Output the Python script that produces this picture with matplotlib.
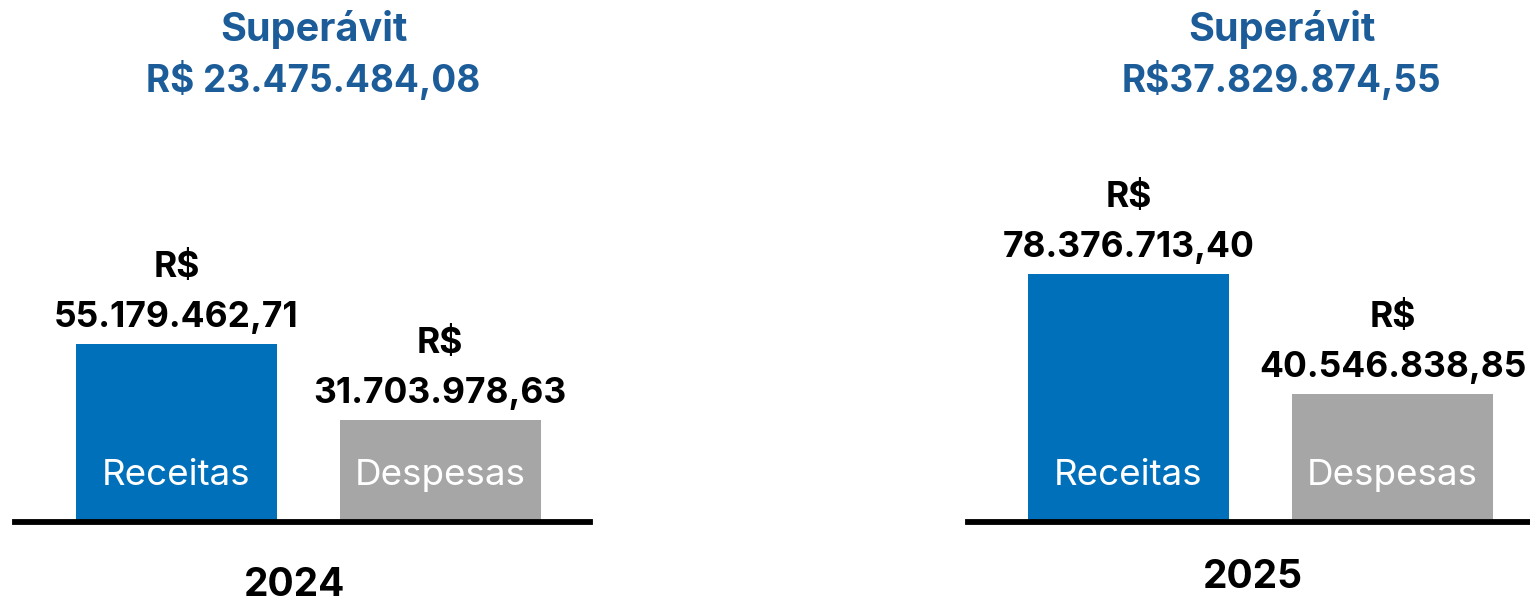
import matplotlib.pyplot as plt

# Receitas x Despesas por exercício
anos = ['2024', '2025']
categorias = ['Receitas', 'Despesas']
receitas = [55179462.71, 78376713.40]
despesas = [31703978.63, 40546838.85]
superavit_txt = ['R$ 23.475.484,08', 'R$37.829.874,55']
valor_txt = [['55.179.462,71', '31.703.978,63'],
             ['78.376.713,40', '40.546.838,85']]

cores = ['#0070BB', '#A6A6A6']
azul_titulo = '#1B5C99'
fonte = 'Inter'

W, H = 1530, 601
fig = plt.figure(figsize=(W / 100, H / 100), dpi=100)
fig.patch.set_facecolor('white')

# panel layout in pixels: (left, right, y max in millions, title x, year x, year baseline)
paineis = [
    (15, 590, 161.5, 313.5, 294.5, 596),
    (968, 1530, 165.0, 1281.5, 1253, 588),
]
base_px = 79  # baseline height from the bottom
xlims = [(-0.613, 1.569), (-0.608, 1.521)]


def px(y_topo):
    return 1 - y_topo / H


for i, ano in enumerate(anos):
    esq, dir_, ymax, tx, ano_x, ano_y = paineis[i]
    ax = fig.add_axes([esq / W, base_px / H, (dir_ - esq) / W, (H - base_px) / H])
    ax.set_facecolor('none')
    valores = [receitas[i] / 1e6, despesas[i] / 1e6]
    barras = ax.bar([0, 1], valores, width=0.763, color=cores)
    ax.set_xlim(*xlims[i])
    ax.set_ylim(0, ymax)
    ax.axhline(0, color='black', lw=4.2, clip_on=False)
    ax.axis('off')

    for j, b in enumerate(barras):
        cx = b.get_x() + b.get_width() / 2
        topo = b.get_height()
        ax.annotate(valor_txt[i][j], (cx, topo), xytext=(0, 12),
                    textcoords='offset points', ha='center', va='baseline',
                    fontsize=25.5, fontweight='bold', family=fonte)
        ax.annotate('R$', (cx, topo), xytext=(0, 48),
                    textcoords='offset points', ha='center', va='baseline',
                    fontsize=25.5, fontweight='bold', family=fonte)
        ax.annotate(categorias[j], (cx, 0), xytext=(0, 26.6),
                    textcoords='offset points', ha='center', va='baseline',
                    color='white', fontsize=26.5, family=fonte)

    fig.text(tx / W, px(41), 'Superávit', ha='center', va='baseline',
             color=azul_titulo, fontsize=28.5, fontweight='bold', family=fonte)
    fig.text(tx / W, px(92), superavit_txt[i], ha='center', va='baseline',
             color=azul_titulo, fontsize=26.6, fontweight='bold', family=fonte)
    fig.text(ano_x / W, px(ano_y), ano, ha='center', va='baseline',
             fontsize=28, fontweight='bold', family=fonte)

fig.savefig('out.png', dpi=100)
